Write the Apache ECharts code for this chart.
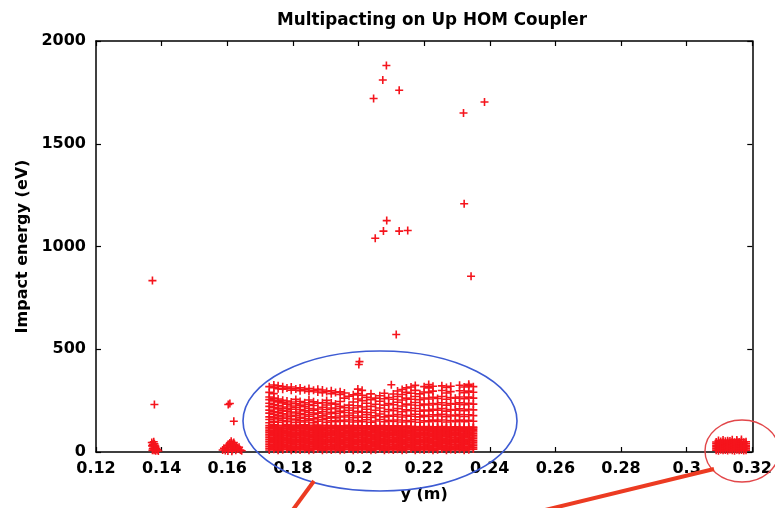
<!DOCTYPE html>
<html>
<head>
<meta charset="utf-8">
<script src="https://cdn.jsdelivr.net/npm/echarts@6/dist/echarts.min.js"></script>
<style>
  html, body { margin: 0; padding: 0; background: #ffffff; }
  #chart { width: 775px; height: 508px; }
</style>
</head>
<body>
<div id="chart"></div>
<script>
// Axis ranges and ticks
const xTicks = [0.12, 0.14, 0.16, 0.18, 0.2, 0.22, 0.24, 0.26, 0.28, 0.3, 0.32];
const yTicks = [0, 500, 1000, 1500, 2000];

// Isolated high-energy impacts, [y position (m), impact energy (eV)]
const highEnergyHits = [
  [0.2085, 1881], [0.2074, 1810], [0.2124, 1760], [0.2046, 1720],
  [0.2384, 1703], [0.2320, 1650], [0.2322, 1208], [0.2086, 1126],
  [0.2076, 1075], [0.2124, 1075], [0.2150, 1078], [0.2051, 1040],
  [0.2343, 855], [0.2115, 572], [0.1372, 834], [0.1378, 231],
  [0.2003, 440], [0.2001, 426], [0.2100, 327], [0.1608, 236],
  [0.1603, 231], [0.1620, 150]
];

// Low-energy impacts near y = 0.14 m
const cluster014 = [
  [0.1370, 46], [0.1373, 38], [0.1376, 50], [0.1371, 30], [0.1375, 24],
  [0.1378, 40], [0.1373, 16], [0.1377, 9], [0.1381, 28], [0.1384, 18],
  [0.1382, 6], [0.1387, 11], [0.1390, 5], [0.1379, 33], [0.1372, 8]
];

// Low-energy impacts near y = 0.16 m
const cluster016 = [
  [0.1586, 10], [0.1590, 18], [0.1594, 7], [0.1598, 22], [0.1600, 30],
  [0.1604, 14], [0.1606, 38], [0.1610, 25], [0.1612, 52], [0.1614, 42],
  [0.1616, 12], [0.1618, 33], [0.1620, 46], [0.1624, 20], [0.1626, 8],
  [0.1628, 29], [0.1632, 15], [0.1636, 23], [0.1640, 10], [0.1644, 6],
  [0.1602, 5], [0.1614, 4], [0.1608, 44], [0.1622, 36]
];

// Main multipacting band: y position (m) of each column of impacts
const bandX = [
  0.1728, 0.1742, 0.1755, 0.1769, 0.1782, 0.1795, 0.1809, 0.1822, 0.1836, 0.1849,
  0.1863, 0.1876, 0.1890, 0.1903, 0.1917, 0.1930, 0.1944, 0.1957, 0.1971, 0.1984,
  0.1998, 0.2011, 0.2025, 0.2038, 0.2052, 0.2065, 0.2079, 0.2092, 0.2106, 0.2119,
  0.2133, 0.2146, 0.2160, 0.2173, 0.2187, 0.2200, 0.2214, 0.2227, 0.2241, 0.2254,
  0.2268, 0.2281, 0.2295, 0.2308, 0.2322, 0.2336, 0.2350
];

// Dense low-energy part of each band column (eV)
const bandCore = [
  [10, 18, 27, 35, 44, 52, 61, 69, 78, 86, 95, 103, 112, 120, 129],
  [13, 21, 30, 38, 47, 55, 64, 72, 81, 89, 98, 106, 115, 123, 132],
  [8, 16, 25, 33, 42, 50, 59, 67, 76, 84, 93, 101, 110, 118, 127],
  [11, 20, 28, 37, 45, 54, 62, 71, 79, 88, 96, 105, 113, 122, 130],
  [14, 22, 31, 39, 48, 56, 65, 73, 82, 90, 99, 107, 116, 124, 133],
  [9, 17, 26, 34, 43, 51, 60, 68, 77, 85, 94, 102, 111, 119, 128],
  [12, 21, 29, 38, 46, 55, 63, 72, 80, 89, 97, 106, 114, 123, 131],
  [10, 19, 27, 36, 44, 53, 61, 70, 78, 87, 95, 104, 112, 121, 129],
  [13, 22, 30, 39, 47, 56, 64, 73, 81, 90, 98, 107, 115, 124, 132],
  [8, 17, 25, 34, 42, 51, 59, 68, 76, 85, 93, 102, 110, 119, 127],
  [11, 19, 28, 36, 45, 53, 62, 70, 79, 87, 96, 104, 113, 121, 130],
  [14, 23, 31, 40, 48, 57, 65, 74, 82, 91, 99, 108, 116, 125, 131],
  [9, 18, 26, 35, 43, 52, 60, 69, 77, 86, 94, 103, 111, 120, 128],
  [12, 20, 29, 37, 46, 54, 63, 71, 80, 88, 97, 105, 114, 122, 130],
  [10, 18, 27, 35, 44, 52, 61, 69, 78, 86, 95, 103, 112, 120, 127],
  [13, 21, 30, 38, 47, 55, 64, 72, 81, 89, 98, 106, 115, 123, 129],
  [8, 17, 25, 34, 42, 51, 59, 68, 76, 85, 93, 102, 110, 119, 126],
  [11, 20, 28, 37, 45, 54, 62, 71, 79, 88, 96, 105, 113, 121, 128],
  [14, 22, 31, 39, 48, 56, 65, 73, 82, 90, 99, 107, 116, 123, 130],
  [9, 18, 26, 35, 43, 52, 60, 69, 77, 86, 94, 103, 111, 119, 127],
  [12, 21, 29, 38, 46, 55, 63, 72, 80, 89, 97, 106, 114, 122, 129],
  [10, 19, 27, 36, 44, 53, 61, 70, 78, 87, 95, 104, 112, 120, 127],
  [13, 22, 30, 39, 47, 56, 64, 73, 81, 90, 98, 107, 115, 122, 128],
  [8, 16, 25, 33, 42, 50, 59, 67, 76, 84, 93, 101, 110, 118, 126],
  [11, 19, 28, 36, 45, 53, 62, 70, 79, 87, 96, 104, 113, 121, 127],
  [14, 23, 31, 40, 48, 57, 65, 74, 82, 91, 99, 108, 115, 122, 129],
  [9, 17, 26, 34, 43, 51, 60, 68, 77, 85, 94, 102, 110, 118, 126],
  [12, 20, 29, 37, 46, 54, 63, 71, 80, 88, 97, 105, 113, 120, 128],
  [10, 18, 27, 35, 44, 52, 61, 69, 78, 86, 95, 103, 111, 119, 125],
  [13, 21, 30, 38, 47, 55, 64, 72, 81, 89, 98, 106, 114, 121, 127],
  [8, 17, 25, 34, 42, 51, 59, 68, 76, 85, 93, 101, 109, 117, 124],
  [11, 20, 28, 37, 45, 54, 62, 71, 79, 88, 96, 104, 112, 119, 126],
  [14, 22, 31, 39, 48, 56, 65, 73, 82, 90, 98, 106, 113, 120, 125],
  [9, 18, 26, 35, 43, 52, 60, 69, 77, 86, 94, 102, 110, 117, 123],
  [12, 21, 29, 38, 46, 55, 63, 72, 80, 88, 96, 104, 111, 118, 124],
  [10, 19, 27, 36, 44, 53, 61, 70, 78, 86, 94, 102, 109, 116, 122],
  [13, 22, 30, 39, 47, 56, 64, 73, 81, 89, 97, 104, 111, 118, 124],
  [8, 16, 25, 33, 42, 50, 59, 67, 76, 84, 92, 100, 108, 115, 121],
  [11, 19, 28, 36, 45, 53, 62, 70, 79, 87, 95, 103, 110, 117, 123],
  [14, 23, 31, 40, 48, 57, 65, 74, 82, 90, 98, 105, 112, 118, 124],
  [9, 17, 26, 34, 43, 51, 60, 68, 77, 85, 93, 101, 108, 115, 121],
  [12, 20, 29, 37, 46, 54, 63, 71, 80, 88, 96, 103, 110, 117, 122],
  [10, 18, 27, 35, 44, 52, 61, 69, 78, 86, 94, 102, 109, 116, 123],
  [13, 21, 30, 38, 47, 55, 64, 72, 81, 89, 97, 104, 111, 117, 122],
  [8, 17, 25, 34, 42, 51, 59, 68, 76, 84, 92, 100, 107, 114, 120],
  [11, 20, 28, 37, 45, 54, 62, 71, 79, 87, 95, 103, 110, 116, 122],
  [14, 22, 31, 39, 48, 56, 65, 73, 81, 89, 97, 104, 111, 117, 121]
];

// Sparser higher-energy part of each band column (eV)
const bandUpper = [
  [142, 158, 171, 189, 204, 222, 237, 255, 268, 290, 318],
  [150, 166, 183, 197, 216, 231, 249, 262, 284, 313, 326],
  [145, 161, 176, 194, 210, 226, 244, 258, 308, 322],
  [153, 170, 186, 203, 219, 239, 252, 305, 318],
  [147, 164, 180, 199, 213, 233, 248, 311],
  [156, 173, 190, 208, 224, 243, 301, 316],
  [144, 160, 178, 195, 217, 235, 256, 307],
  [152, 169, 187, 206, 228, 246, 298, 312],
  [146, 163, 181, 200, 221, 240, 303],
  [155, 174, 192, 212, 231, 253, 295, 309],
  [143, 161, 183, 204, 226, 244, 300],
  [150, 168, 189, 209, 237, 292, 305],
  [157, 176, 196, 218, 240, 288, 302],
  [145, 164, 185, 207, 229, 251, 295],
  [152, 171, 193, 214, 238, 284, 298],
  [147, 166, 188, 211, 233, 290],
  [154, 175, 199, 222, 246, 280, 293],
  [149, 170, 192, 216, 262, 287],
  [156, 178, 203, 228, 271],
  [146, 167, 190, 214, 243, 278],
  [153, 175, 198, 225, 258, 284, 306],
  [148, 169, 194, 219, 250, 276, 300],
  [157, 182, 208, 237, 266],
  [145, 168, 192, 222, 255, 283],
  [151, 176, 203, 232, 262],
  [158, 185, 214, 247, 274],
  [147, 171, 197, 228, 259, 286],
  [154, 179, 207, 236, 265],
  [149, 174, 201, 230, 257, 282],
  [156, 182, 211, 242, 270, 297],
  [146, 170, 196, 224, 253, 280, 304],
  [153, 179, 205, 233, 262, 290, 312],
  [148, 174, 201, 229, 257, 286, 316],
  [157, 184, 212, 241, 270, 300, 324],
  [145, 171, 198, 226, 255, 283],
  [152, 178, 204, 233, 263, 292, 318],
  [147, 173, 200, 229, 258, 288, 312, 328],
  [155, 181, 208, 236, 266, 296, 320],
  [149, 175, 203, 231, 260],
  [156, 183, 211, 240, 270, 299, 322],
  [146, 172, 199, 228, 257, 287, 314],
  [153, 180, 207, 236, 265, 294, 320],
  [148, 176, 204, 232, 262],
  [155, 182, 210, 239, 268, 298, 325],
  [147, 173, 201, 230, 259, 289, 316],
  [154, 181, 208, 237, 267, 296, 322, 330],
  [150, 177, 205, 233, 262, 291, 318]
];

// Low-energy impacts near the end of the coupler (~0.31 m)
const tailX = [
  0.3090, 0.3097, 0.3104, 0.3111, 0.3118, 0.3125, 0.3132,
  0.3139, 0.3146, 0.3153, 0.3160, 0.3167, 0.3174, 0.3181
];
const tailEnergy = [
  [9, 17, 25, 33, 41, 49], [6, 14, 22, 30, 38, 46, 56], [11, 19, 27, 35, 43, 51],
  [8, 16, 24, 32, 40, 48, 58], [10, 18, 26, 34, 42, 52], [7, 15, 23, 31, 39, 47, 55],
  [12, 20, 28, 36, 44, 53], [9, 17, 25, 33, 41, 49, 60], [6, 14, 22, 30, 38, 47],
  [11, 19, 27, 35, 43, 51, 58], [8, 16, 24, 32, 40, 49], [10, 18, 26, 34, 42, 52, 61],
  [7, 15, 23, 31, 39, 48], [9, 17, 25, 33, 41, 50]
];

// Flatten column tables into [x, y] pairs
function columnsToPoints(xs, ys) {
  const pts = [];
  xs.forEach((x, i) => ys[i].forEach(y => pts.push([x, y])));
  return pts;
}

const impacts = []
  .concat(highEnergyHits)
  .concat(cluster014)
  .concat(cluster016)
  .concat(columnsToPoints(bandX, bandCore))
  .concat(columnsToPoints(bandX, bandUpper))
  .concat(columnsToPoints(tailX, tailEnergy));

const FONT = 'DejaVu Sans';
const plusSymbol = 'path://M4,0h2v4h4v2h-4v4h-2v-4h-4v-2h4z';
const axisLineStyle = { color: '#000', width: 1.5 };
const tickStyle = { show: true, inside: true, length: 5, lineStyle: { color: '#000', width: 1.2 } };
const labelStyle = { color: '#000', fontFamily: FONT, fontWeight: 'bold', fontSize: 16 };

const xMin = xTicks[0], xMax = xTicks[xTicks.length - 1], xStep = 0.02;
const yMin = yTicks[0], yMax = yTicks[yTicks.length - 1], yStep = 500;

const chart = echarts.init(document.getElementById('chart'), null, { renderer: 'canvas' });

chart.setOption({
  backgroundColor: '#ffffff',
  animation: false,
  title: {
    text: 'Multipacting on Up HOM Coupler',
    left: 427,
    top: 7,
    textAlign: 'center',
    textStyle: { color: '#000', fontFamily: FONT, fontWeight: 'bold', fontSize: 16.8 }
  },
  grid: { left: 96, right: 17, top: 41, bottom: 52, containLabel: false },
  xAxis: [
    {
      type: 'value', position: 'bottom', min: xMin, max: xMax, interval: xStep,
      name: 'y (m)', nameLocation: 'middle', nameGap: 35,
      nameTextStyle: { color: '#000', fontFamily: FONT, fontWeight: 'bold', fontSize: 16 },
      axisLine: { show: true, onZero: false, lineStyle: axisLineStyle },
      axisTick: tickStyle,
      axisLabel: Object.assign({ margin: 9, formatter: v => String(+v.toFixed(2)) }, labelStyle),
      splitLine: { show: false }
    },
    {
      type: 'value', position: 'top', min: xMin, max: xMax, interval: xStep,
      axisLine: { show: true, onZero: false, lineStyle: axisLineStyle },
      axisTick: tickStyle, axisLabel: { show: false }, splitLine: { show: false }
    }
  ],
  yAxis: [
    {
      type: 'value', position: 'left', min: yMin, max: yMax, interval: yStep,
      name: 'Impact energy (eV)', nameLocation: 'middle', nameGap: 48,
      nameTextStyle: { color: '#000', fontFamily: FONT, fontWeight: 'bold', fontSize: 16 },
      axisLine: { show: true, onZero: false, lineStyle: axisLineStyle },
      axisTick: tickStyle,
      axisLabel: Object.assign({ margin: 10, formatter: v => String(v) }, labelStyle),
      splitLine: { show: false }
    },
    {
      type: 'value', position: 'right', min: yMin, max: yMax, interval: yStep,
      axisLine: { show: true, onZero: false, lineStyle: axisLineStyle },
      axisTick: tickStyle, axisLabel: { show: false }, splitLine: { show: false }
    }
  ],
  series: [
    {
      type: 'scatter',
      xAxisIndex: 0,
      yAxisIndex: 0,
      data: impacts,
      symbol: plusSymbol,
      symbolSize: 8,
      itemStyle: { color: '#f5141c', opacity: 1 },
      emphasis: { disabled: true }
    }
  ],
  graphic: [
    // blue ring around the main band
    { type: 'ellipse', shape: { cx: 380, cy: 421, rx: 137, ry: 70 },
      style: { fill: 'none', stroke: '#3d5bd3', lineWidth: 1.6 }, z: 100 },
    // red ring around the low-energy tail
    { type: 'ellipse', shape: { cx: 742, cy: 451, rx: 37, ry: 31 },
      style: { fill: 'none', stroke: '#e2474a', lineWidth: 1.4 }, z: 100 },
    // pointer lines
    { type: 'line', shape: { x1: 314, y1: 481, x2: 292, y2: 511 },
      style: { stroke: '#ec3b22', lineWidth: 4 }, z: 100 },
    { type: 'line', shape: { x1: 541, y1: 511, x2: 714, y2: 469 },
      style: { stroke: '#ec3b22', lineWidth: 4 }, z: 100 }
  ]
});
</script>
</body>
</html>
